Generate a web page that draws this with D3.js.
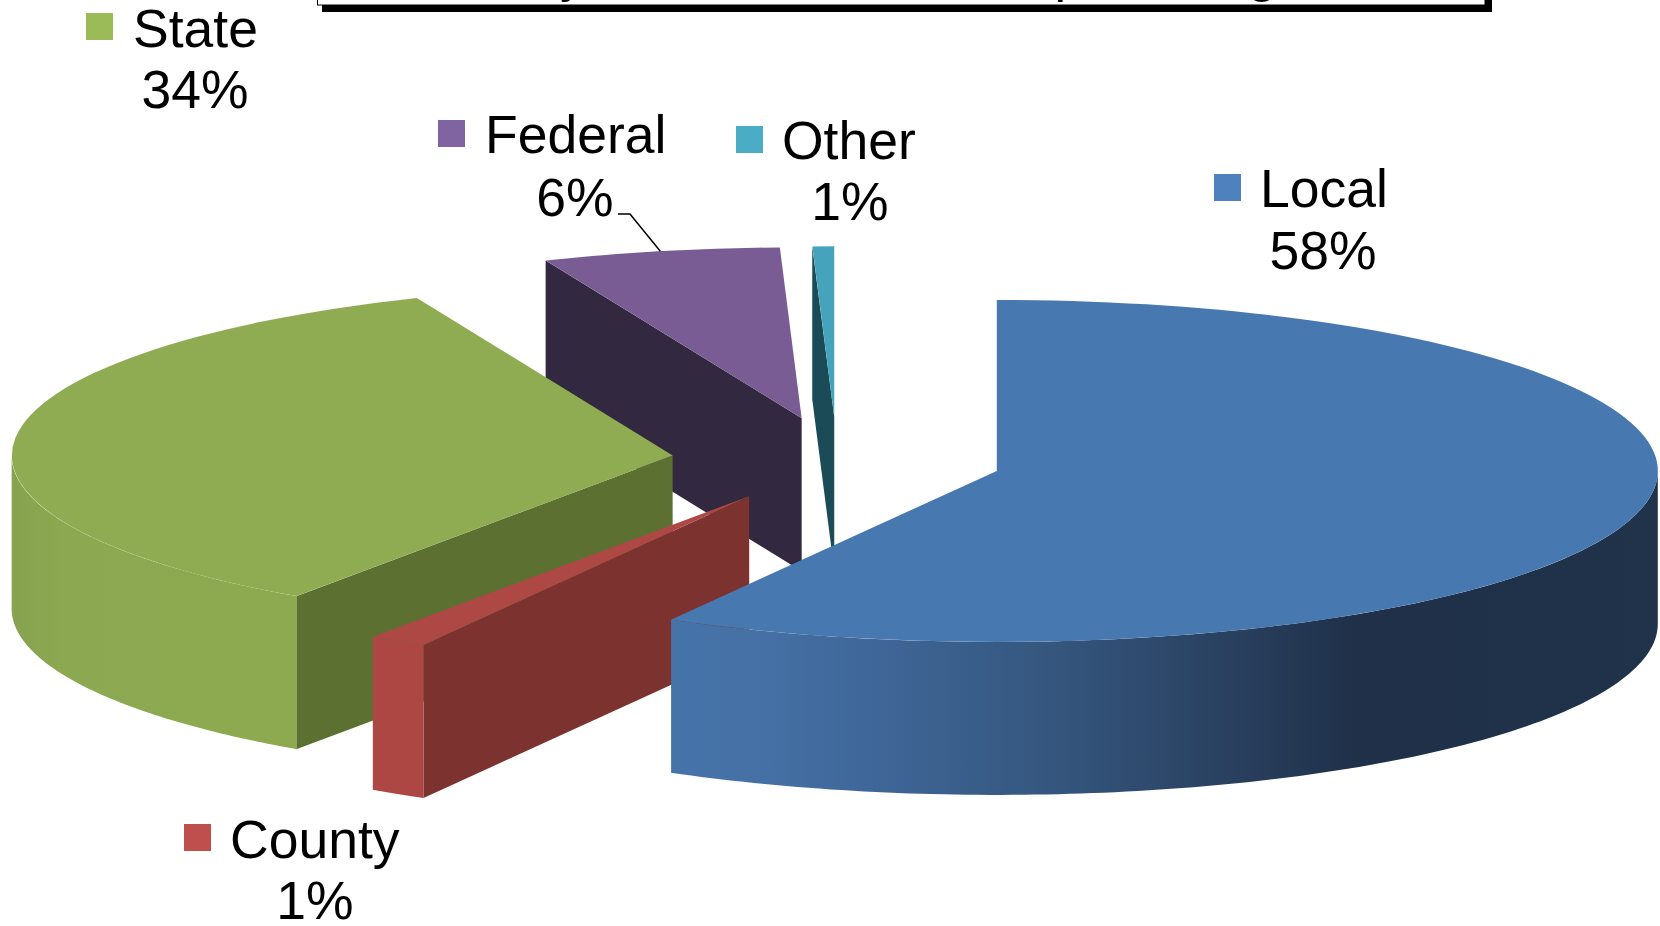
<!DOCTYPE html>
<html>
<head>
<meta charset="utf-8">
<script src="https://cdnjs.cloudflare.com/ajax/libs/d3/7.8.5/d3.min.js"></script>
<style>
html,body{margin:0;padding:0;background:#fff;overflow:hidden}
svg{display:block;filter:blur(0.45px)}
text{font-family:"Liberation Sans",Arial,sans-serif;fill:#000}
</style>
</head>
<body>
<svg id="chart" width="1660" height="926"></svg>
<script>
// ---- data (shares that round to the printed labels) ----
const categories = ["Local", "County", "State", "Federal", "Other"];
const shares = [58.2, 1.44, 34.03, 5.8, 0.53];
const percentLabels = ["58%", "1%", "34%", "6%", "1%"];

// ---- styles ----
const topColors = ["#4878B0", "#AE4845", "#90AC52", "#795C94", "#45A3BC"];
const wallColors = ["#24384F", "#7C322E", "#5C7032", "#322840", "#1B4B56"];
const rimColors = ["url(#rimLocal)", "#AC4744", "url(#rimState)", "#5E4A75", "#2F7F93"];
const swatchColors = ["#4F81BD", "#BE4F4C", "#9BBB59", "#8064A2", "#4BACC6"];

// ---- layout ----
const cx = 837, cy = 460, rx = 661, ry = 171, depth = 153, explode = 0.25;
const swatchSize = 27, fontSize = 53.5;
const labelX = [1260, 230, 133, 485, 782];
const labelY = [207, 858, 47, 153, 159];
const percentX = [1323, 315, 195, 575, 850];
const percentY = [269, 919, 108, 216, 220];
const swatchX = [1214, 184, 86, 438, 736];
const swatchY = [174, 824, 13, 120, 126];

const svg = d3.select("#chart");
const defs = svg.append("defs");
function gradient(id, x1, x2, stops) {
  const g = defs.append("linearGradient").attr("id", id)
    .attr("gradientUnits", "userSpaceOnUse")
    .attr("x1", x1).attr("x2", x2).attr("y1", 0).attr("y2", 0);
  stops.forEach(s => g.append("stop").attr("offset", s[0]).attr("stop-color", s[1]));
}
gradient("rimLocal", 670, 1657, [[0, "#4673A9"], [0.1, "#4470A5"], [0.22, "#3E6596"], [0.38, "#35577F"],
  [0.57, "#29405F"], [0.7, "#1F3048"], [1, "#20334B"]]);
gradient("rimState", 11, 296, [[0, "#86A24F"], [0.18, "#8CA951"], [1, "#8DAA51"]]);

// Title box: only its lower edge is in frame
const titleBox = svg.append("g").attr("class", "title-box");
titleBox.append("rect").attr("x", 322).attr("y", -30).attr("width", 1170).attr("height", 42).attr("fill", "#000");
titleBox.append("rect").attr("x", 317.5).attr("y", -30).attr("width", 1167.5).attr("height", 35)
  .attr("fill", "#fff").attr("stroke", "#000").attr("stroke-width", 1);
[["y", 573], ["p", 1069], ["g", 1262]].forEach(d => {
  titleBox.append("text").attr("x", d[1]).attr("y", -9).attr("text-anchor", "middle")
    .attr("font-size", 52).text(d[0]);
});

// Slices
const pie = d3.pie().sort(null).value(d => d.share);
const slices = pie(categories.map((c, i) => ({ name: c, share: shares[i], i })));
const topArc = d3.arc().innerRadius(0).outerRadius(1);
const rimPoint = (s, a) => [s.ax + rx * Math.sin(a), s.ay - ry * Math.cos(a)];
slices.forEach(s => {
  s.mid = (s.startAngle + s.endAngle) / 2;
  s.ax = cx + explode * rx * Math.sin(s.mid);
  s.ay = cy - explode * ry * Math.cos(s.mid);
});
const linePath = d3.line();

// Painter's order: farthest slices first
const order = [4, 3, 2, 1, 0];
const groups = svg.append("g").attr("class", "pie").selectAll("g")
  .data(order.map(i => slices[i])).join("g");

groups.each(function (s) {
  const g = d3.select(this), i = s.data.i;
  // cut wall at the start angle, visible when the slice starts in the left half
  if (s.startAngle > Math.PI) {
    const p = rimPoint(s, s.startAngle);
    g.append("path").attr("fill", wallColors[i]).attr("d", linePath([
      p, [s.ax, s.ay], [s.ax, s.ay + depth], [p[0], p[1] + depth]
    ]) + "Z");
  }
  // front rim
  const a0 = Math.max(s.startAngle, Math.PI / 2), a1 = Math.min(s.endAngle, 3 * Math.PI / 2);
  if (a1 > a0) {
    const upper = d3.range(0, 121).map(k => rimPoint(s, a0 + (a1 - a0) * k / 120));
    const lower = upper.slice().reverse().map(p => [p[0], p[1] + depth]);
    g.append("path").attr("fill", rimColors[i]).attr("d", linePath(upper.concat(lower)) + "Z");
  }
  // top face
  g.append("path").attr("fill", topColors[i])
    .attr("transform", `translate(${s.ax},${s.ay}) scale(${rx},${ry})`)
    .attr("d", topArc(s));
});

// Leader line for Federal
const fed = slices[categories.indexOf("Federal")];
svg.append("path").attr("fill", "none").attr("stroke", "#000").attr("stroke-width", 1.5)
  .attr("d", linePath([[618, 214], [630, 214], rimPoint(fed, fed.mid)]));

// Labels
const labels = svg.append("g").attr("class", "labels").selectAll("g")
  .data(categories).join("g");
labels.append("rect")
  .attr("x", (d, i) => swatchX[i]).attr("y", (d, i) => swatchY[i])
  .attr("width", swatchSize).attr("height", swatchSize)
  .attr("fill", (d, i) => swatchColors[i]);
labels.append("text")
  .attr("x", (d, i) => labelX[i]).attr("y", (d, i) => labelY[i])
  .attr("font-size", fontSize).text(d => d);
labels.append("text")
  .attr("x", (d, i) => percentX[i]).attr("y", (d, i) => percentY[i])
  .attr("text-anchor", "middle").attr("font-size", fontSize)
  .text((d, i) => percentLabels[i]);
</script>
</body>
</html>
